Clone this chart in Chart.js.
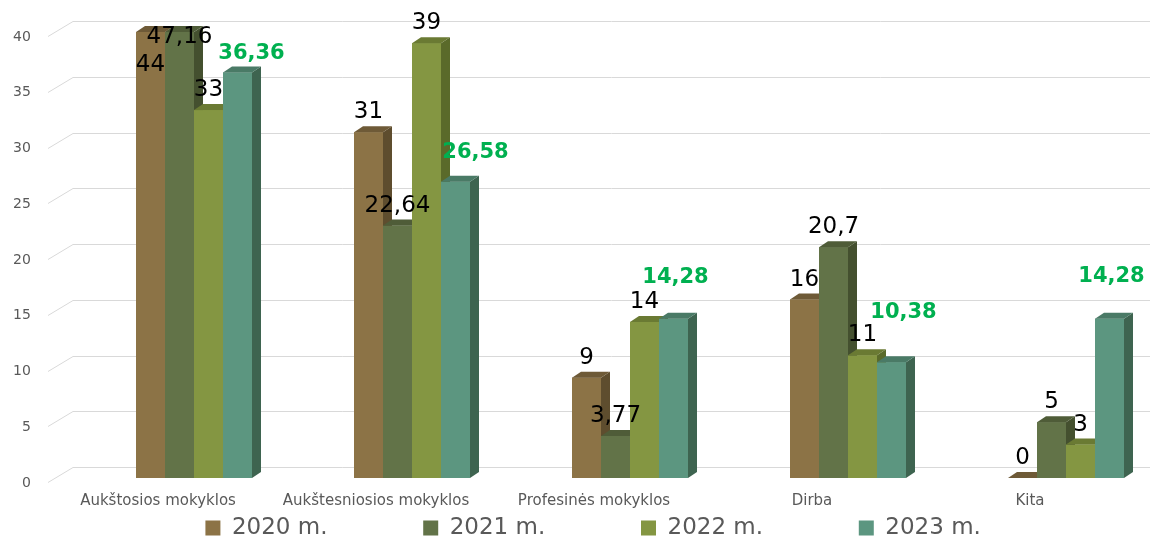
<!DOCTYPE html>
<html lang="lt">
<head>
<meta charset="utf-8">
<style>
    html, body { margin: 0; padding: 0; background: #fff; }
</style>
</head>
<body>
<canvas id="myChart" width="1153" height="539"></canvas>

<script src="https://cdn.jsdelivr.net/npm/chart.js@4"></script>
<script>
    const categories = ['Aukštosios mokyklos', 'Aukštesniosios mokyklos', 'Profesinės mokyklos', 'Dirba', 'Kita']
    const years = ['2020 m.', '2021 m.', '2022 m.', '2023 m.']
    const v2020 = [44, 31, 9, 16, 0]
    const v2021 = [47.16, 22.64, 3.77, 20.7, 5]
    const v2022 = [33, 39, 14, 11, 3]
    const v2023 = [36.36, 26.58, 14.28, 10.38, 14.28]
    const yMax = 40
    const yStep = 5

    const FONT = 'DejaVu Sans'
    const frontColors = ['#8c7346', '#627348', '#849642', '#5c9680']
    const sideColors = ['#5e4d2e', '#44502f', '#5a6a2a', '#3e6450']
    const topColors = ['#6e5a37', '#4f5c38', '#6a7a33', '#4a7a66']
    const depthX = 9, depthY = 6
    // the 2023 labels sit where they were dragged to in the original
    const greenNudge = [[14, -19], [20, -29], [2, -41], [12, -50], [2, -42]]

    const fmt = v => String(v).replace('.', ',')

    function poly(ctx, pts) {
        ctx.beginPath()
        ctx.moveTo(pts[0][0], pts[0][1])
        for (let k = 1; k < pts.length; k++) ctx.lineTo(pts[k][0], pts[k][1])
        ctx.closePath()
        ctx.fill()
    }

    const bars3d = {
        id: 'bars3d',
        beforeDatasetsDraw(chart) {
            const ctx = chart.ctx
            const ys = chart.scales.y
            ctx.save()
            ctx.strokeStyle = '#d9d9d9'
            ctx.lineWidth = 1
            ys.ticks.forEach(t => {
                const py = Math.round(ys.getPixelForValue(t.value)) + 0.5
                ctx.beginPath()
                ctx.moveTo(48, py + 4)
                ctx.lineTo(73, py - 11)
                ctx.lineTo(chart.width - 3, py - 11)
                ctx.stroke()
            })
            ctx.restore()
        },
        afterDatasetsDraw(chart) {
            const ctx = chart.ctx
            const area = chart.chartArea
            const sets = chart.data.datasets
            ctx.save()
            // redraw each group left to right so side faces stack correctly
            for (let i = 0; i < chart.data.labels.length; i++) {
                sets.forEach((ds, d) => {
                    const bar = chart.getDatasetMeta(d).data[i]
                    const top = Math.max(bar.y, area.top)
                    const l = bar.x - bar.width / 2, r = bar.x + bar.width / 2
                    const base = bar.base
                    ctx.fillStyle = frontColors[d]
                    ctx.fillRect(l, top, bar.width, base - top)
                    ctx.fillStyle = sideColors[d]
                    poly(ctx, [[r, top], [r + depthX, top - depthY], [r + depthX, base - depthY], [r, base]])
                    ctx.fillStyle = topColors[d]
                    poly(ctx, [[l, top], [l + depthX, top - depthY], [r + depthX, top - depthY], [r, top]])
                })
            }

            ctx.textAlign = 'center'
            ctx.textBaseline = 'middle'
            sets.forEach((ds, d) => {
                chart.getDatasetMeta(d).data.forEach((bar, i) => {
                    let x = bar.x, y
                    if (d === 3) {
                        ctx.font = 'bold 21px "' + FONT + '"'
                        ctx.fillStyle = '#00b050'
                        x += greenNudge[i][0]
                        y = bar.y + greenNudge[i][1]
                    } else {
                        ctx.font = '23px "' + FONT + '"'
                        ctx.fillStyle = '#000000'
                        y = bar.y < area.top ? area.top + (d % 2 ? 5 : 33) : bar.y - 20
                    }
                    ctx.fillText(fmt(ds.data[i]), x, y)
                })
            })
            ctx.restore()
        }
    }

    const ctx = document.getElementById('myChart')
    let chart = new Chart(ctx, {
        type: 'bar',
        data: {
            labels: categories,
            datasets: [v2020, v2021, v2022, v2023].map((vals, d) => ({
                label: years[d],
                data: vals,
                backgroundColor: frontColors[d],
                borderWidth: 0,
                categoryPercentage: 116 / 218,
                barPercentage: 1,
                clip: {left: false, top: 0, right: false, bottom: false}
            }))
        },
        options: {
            responsive: false,
            animation: false,
            devicePixelRatio: 1,
            layout: {padding: {left: 121, top: 32, right: 0, bottom: -10.5}},
            plugins: {
                tooltip: {enabled: false},
                legend: {
                    position: 'bottom',
                    labels: {
                        boxWidth: 15,
                        boxHeight: 15,
                        padding: 8,
                        color: '#595959',
                        font: {family: FONT, size: 23},
                        generateLabels(chart) {
                            const items = Chart.defaults.plugins.legend.labels.generateLabels(chart)
                            items.forEach(it => { it.text = it.text + '\u00a0'.repeat(12); it.lineWidth = 0 })
                            return items
                        }
                    }
                }
            },
            scales: {
                x: {
                    offset: false,
                    grid: {display: false, drawTicks: false},
                    border: {display: false},
                    ticks: {
                        font: {family: FONT, size: 15},
                        color: '#595959',
                        padding: 14,
                        labelOffset: -36,
                        maxRotation: 0,
                        autoSkip: false
                    },
                    afterFit(s) { s.height = 30.5 }
                },
                y: {
                    min: 0,
                    max: yMax,
                    grid: {display: false, drawTicks: false},
                    border: {display: false},
                    ticks: {
                        stepSize: yStep,
                        font: {family: FONT, size: 14},
                        color: '#595959',
                        mirror: true,
                        crossAlign: 'far',
                        padding: -181,
                        labelOffset: 5
                    },
                    afterFit(s) {
                        s.width = 73
                        s.paddingTop = 8
                        s.paddingBottom = 8
                    }
                },
                yPad: {
                    position: 'right',
                    grid: {display: false, drawTicks: false},
                    border: {display: false},
                    ticks: {display: false},
                    afterFit(s) { s.width = 87 }
                }
            }
        },
        plugins: [bars3d]
    })
</script>
</body>
</html>
